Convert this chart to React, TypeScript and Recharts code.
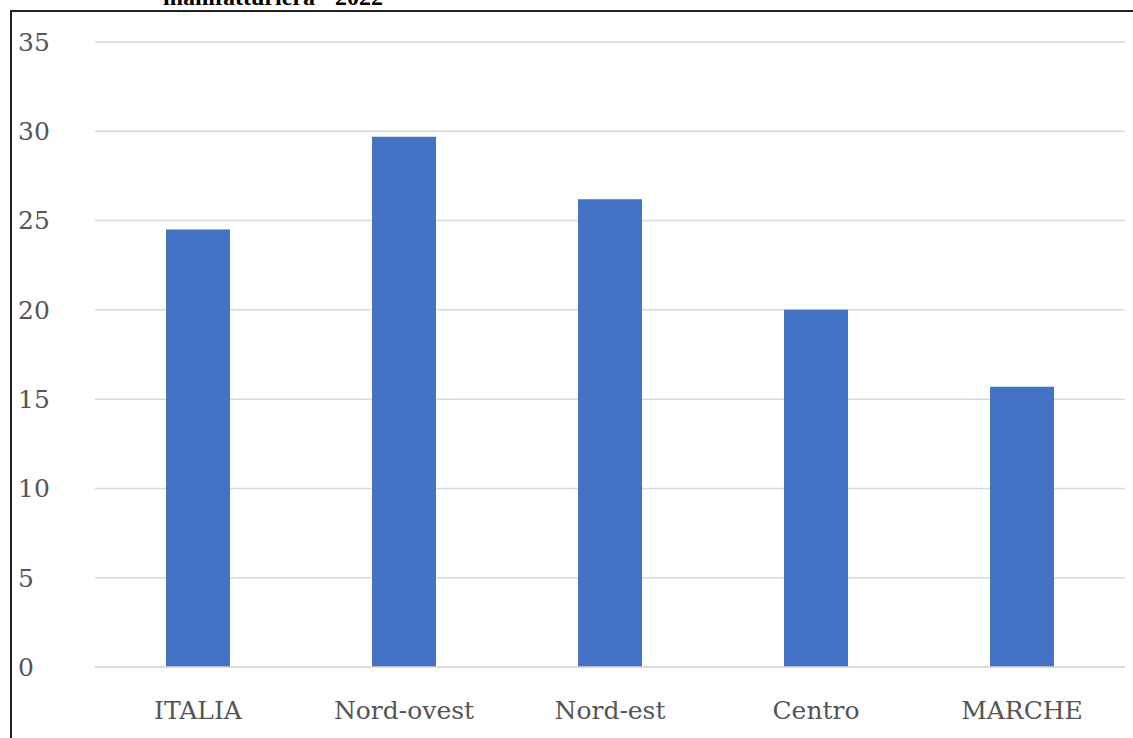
import React from "react";
import { BarChart, Bar, XAxis, YAxis, CartesianGrid } from "recharts";

const categories = ["ITALIA", "Nord-ovest", "Nord-est", "Centro", "MARCHE"];
const values = [24.5, 29.7, 26.2, 20.0, 15.7];
const yTicks = [0, 5, 10, 15, 20, 25, 30, 35];

const data = categories.map((c, i) => ({ name: c, v: values[i] }));
const font = "'DejaVu Serif', 'Liberation Serif', serif";

export default function App() {
  return (
    <div style={{ position: "absolute", left: 0, top: 0, width: 1133, height: 738, background: "#fff", overflow: "hidden" }}>
      <div style={{ position: "absolute", left: 163, top: -16, fontFamily: "'Liberation Serif', serif", fontWeight: "bold", fontSize: 24, color: "#000", whiteSpace: "nowrap" }}>
        manifatturiera - 2022
      </div>
      <div style={{ position: "absolute", left: 10, top: 10, width: 1130, height: 740, border: "2px solid #222", boxSizing: "border-box" }} />
      <div style={{ position: "absolute", left: 0, top: 0 }}>
        <BarChart width={1133} height={738} data={data} margin={{ top: 42, right: 8, bottom: 41, left: 0 }} barSize={64}>
          <CartesianGrid vertical={false} stroke="#d9d9d9" strokeWidth={1.5} />
          <XAxis dataKey="name" axisLine={{ stroke: "#d9d9d9", strokeWidth: 1.5 }} tickLine={false}
            tick={{ fill: "#555", fontSize: 25, fontFamily: font }} dy={26} />
          <YAxis domain={[0, 35]} ticks={yTicks} width={95} axisLine={false} tickLine={false}
            tick={{ fill: "#555", fontSize: 25, fontFamily: font, textAnchor: "start" }} dx={-69} />
          <Bar dataKey="v" fill="#4472c4" isAnimationActive={false} />
        </BarChart>
      </div>
    </div>
  );
}
